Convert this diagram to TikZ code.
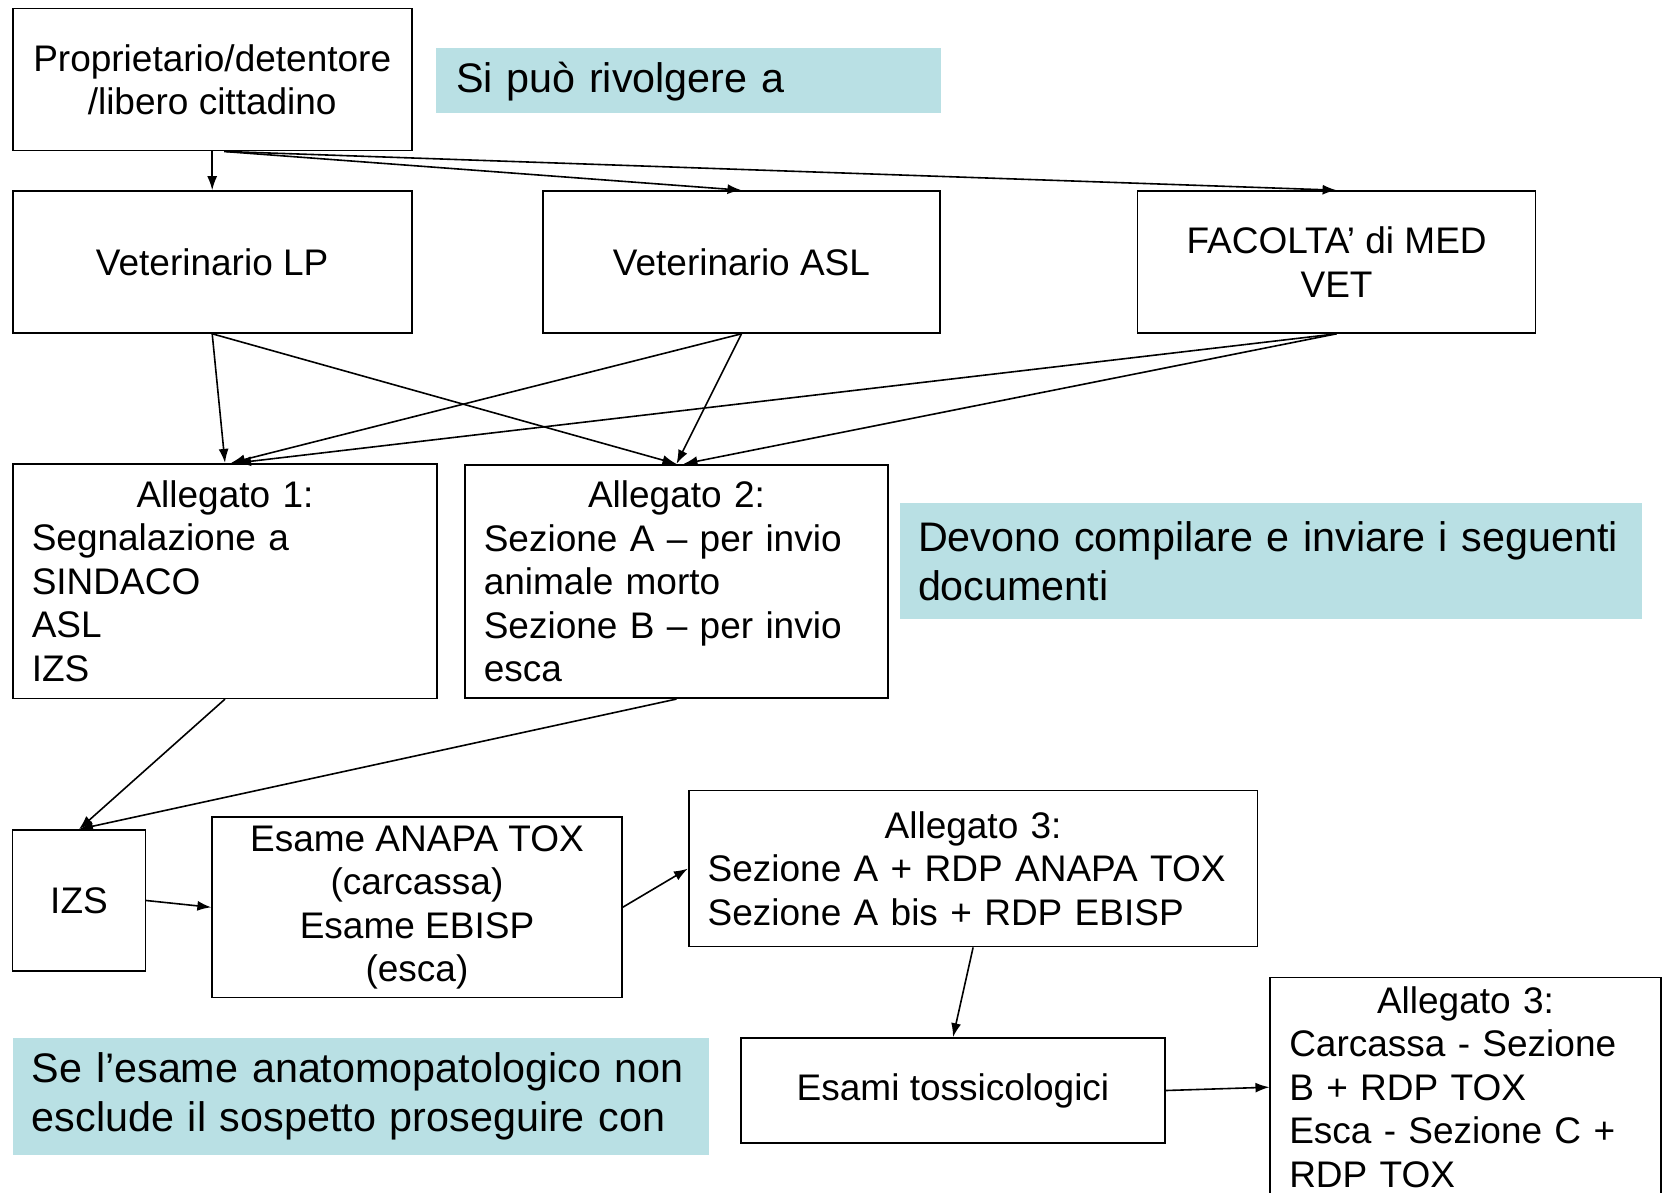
\documentclass[tikz,border=0pt]{standalone}
\usepackage{fontspec}
\setmainfont{Liberation Sans}
\usetikzlibrary{arrows.meta,calc}
\setlength\parindent{0pt}
\definecolor{tealnote}{RGB}{185,224,228}
\newcommand\bxfont{\fontsize{37}{43.5}\selectfont}
\newcommand\ntfont{\fontsize{41.3}{49}\selectfont}
\begin{document}
\begin{tikzpicture}[x=1pt,y=-1pt,
  box/.style={draw, line width=1.6pt, inner sep=0pt, font=\bxfont, align=center},
  lbox/.style={box, align=left},
  note/.style={fill=tealnote, inner sep=0pt, font=\ntfont, align=left},
  arr/.style={line width=1.6pt, -{Latex[length=14pt,width=10pt]}}]
\useasboundingbox (0,0) rectangle (1664,1193);
\clip (0,0) rectangle (1664,1193);
% notes
\node[note, minimum width=505pt, minimum height=65.7pt, text width=465pt, text depth=7pt] (sip) at (688.5,80.65) {Si può rivolgere a};
\node[note, minimum width=741.6pt, minimum height=115.7pt, text width=705.6pt] (dev) at (1270.8,560.8) {\mbox{Devono compilare e inviare i seguenti}\\documenti};
\node[note, minimum width=696.2pt, minimum height=117pt, text width=658pt] (se) at (360.8,1096.4) {\mbox{Se l’esame anatomopatologico non}\\\mbox{esclude il sospetto proseguire con}};
% boxes
\node[box, minimum width=399pt, minimum height=142.2pt] (prop) at (212.2,79.6) {Proprietario/detentore\\/libero cittadino};
\node[box, minimum width=399pt, minimum height=142pt] (vetlp) at (212.2,262) {Veterinario LP};
\node[box, minimum width=397pt, minimum height=142pt] (vetasl) at (741.5,262) {Veterinario ASL};
\node[box, minimum width=398pt, minimum height=142pt] (fac) at (1336.6,262) {FACOLTA’ di MED\\VET};
\node[lbox, minimum width=424.5pt, minimum height=234.6pt, text width=386.5pt] (all1) at (225,581) {{\centering Allegato 1:\par}Segnalazione a\\SINDACO\\ASL\\IZS};
\node[lbox, minimum width=423.4pt, minimum height=233.5pt, text width=385.4pt] (all2) at (676.5,581.5) {{\centering Allegato 2:\par}Sezione A – per invio\\animale morto\\Sezione B – per invio\\esca};
\node[box, minimum width=132.7pt, minimum height=141pt] (izs) at (79,900.5) {IZS};
\node[box, minimum width=409.7pt, minimum height=180.5pt] (esame) at (417,907.3) {Esame ANAPA TOX\\(carcassa)\\Esame EBISP\\(esca)};
\node[lbox, minimum width=568.8pt, minimum height=156pt, text width=530.8pt] (all3) at (973.1,868.6) {{\centering Allegato 3:\par}Sezione A + RDP ANAPA TOX\\Sezione A bis + RDP EBISP};
\node[box, minimum width=424.5pt, minimum height=105pt] (tox) at (953,1090.5) {Esami tossicologici};
\node[lbox, minimum width=390.5pt, minimum height=219.6pt, text width=352.5pt] (all3b) at (1465.5,1087.2) {{\centering Allegato 3:\par}Carcassa - Sezione\\B + RDP TOX\\Esca - Sezione C +\\RDP TOX};
% connectors
\draw[arr] (prop.south) -- (vetlp.north);
\draw[arr] ($(prop.south)+(12,0)$) -- (vetasl.north);
\draw[arr] ($(prop.south)+(14,0)$) -- (fac.north);
\draw[arr] (vetlp.south) -- (all1.north);
\draw[arr] (vetlp.south) -- (all2.north);
\draw[arr] (vetasl.south) -- ($(all1.north)+(6,0)$);
\draw[arr] (vetasl.south) -- (all2.north);
\draw[arr] (fac.south) -- ($(all1.north)+(12,0)$);
\draw[arr] (fac.south) -- ($(all2.north)+(7,0)$);
\draw[arr] (all1.south) -- (izs.north);
\draw[arr] (all2.south) -- (izs.north);
\draw[arr] (izs.east) -- (esame.west);
\draw[arr] (esame.east) -- (all3.west);
\draw[arr] (all3.south) -- (tox.north);
\draw[arr] (tox.east) -- (all3b.west);
\end{tikzpicture}
\end{document}
